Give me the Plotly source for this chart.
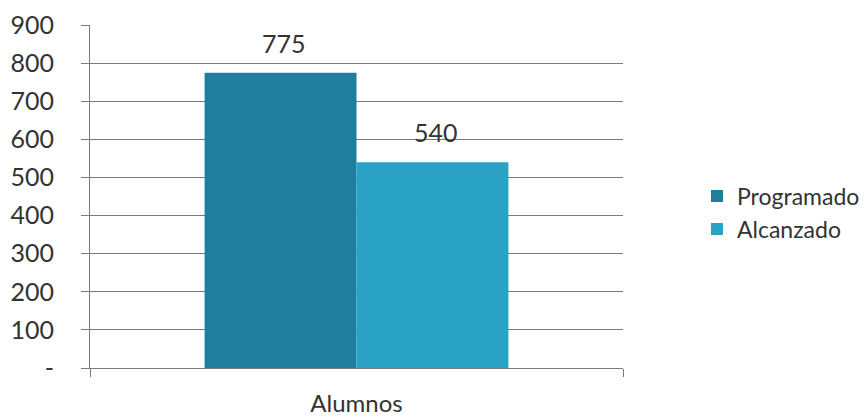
import plotly.graph_objects as go

categories = ["Alumnos"]
series_names = ["Programado", "Alcanzado"]
programado = [775]
alcanzado = [540]
tick_values = [0, 100, 200, 300, 400, 500, 600, 700, 800, 900]
tick_labels = ["-", "100", "200", "300", "400", "500", "600", "700", "800", "900"]

colors = ["#1f7d9e", "#2aa2c6"]
font_family = "Lato, Open Sans, sans-serif"

fig = go.Figure()
for name, vals, col in zip(series_names, [programado, alcanzado], colors):
    fig.add_trace(go.Bar(
        name=name, x=categories, y=vals, marker=dict(color=col, line=dict(width=0)),
        offsetgroup=name,
    ))

# value labels placed above each bar (positions derived from data)
offsets = [-0.5, 0.5]
for vals, off in zip([programado, alcanzado], offsets):
    for cat, v in zip(categories, vals):
        fig.add_annotation(
            x=cat, y=v, text=str(v), showarrow=False,
            xshift=off * 152 + 3, yshift=13, yanchor="bottom",
            font=dict(size=25, color="#333333", family=font_family),
        )

fig.update_layout(
    barmode="group",
    bargap=0.43,
    bargroupgap=0,
    width=868, height=417,
    margin=dict(l=90, r=245, t=25, b=49, autoexpand=False),
    paper_bgcolor="white", plot_bgcolor="white",
    font=dict(family=font_family, color="#333333"),
    showlegend=True,
    legend=dict(xref="container", yref="container", x=0.803, y=0.49,
                xanchor="left", yanchor="middle",
                font=dict(size=23, color="#333333"), tracegroupgap=8,
                itemwidth=30),
)
fig.update_yaxes(
    range=[0, 900], tickvals=tick_values, ticktext=tick_labels,
    showgrid=True, gridcolor="#7a7a7a", gridwidth=1,
    showline=True, linecolor="#7a7a7a", linewidth=1,
    ticks="outside", ticklen=8, tickcolor="#7a7a7a",
    tickfont=dict(size=25, color="#333333"),
    ticklabelstandoff=22,
    zeroline=False,
)
fig.update_xaxes(
    showline=True, linecolor="#7a7a7a", linewidth=1,
    ticks="outside", ticklen=8, tickcolor="#7a7a7a", tickson="boundaries",
    tickfont=dict(size=24, color="#333333"),
    ticklabelstandoff=14,
)
fig.write_html("out.html")
